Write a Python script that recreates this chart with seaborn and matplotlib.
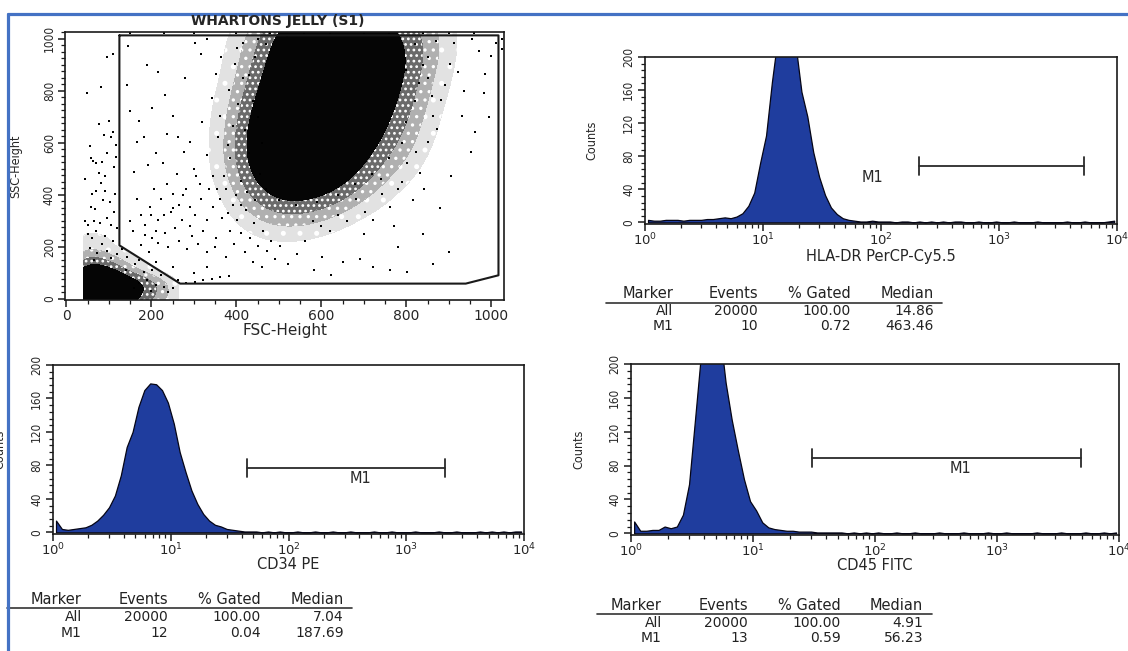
import numpy as np
import pandas as pd
import matplotlib
matplotlib.use("Agg")
import matplotlib.pyplot as plt
from matplotlib.lines import Line2D
from matplotlib.ticker import MultipleLocator
import seaborn as sns

# ------------------------------------------------------------------ data
W, H = 1128, 651

scatter_title = "WHARTONS JELLY (S1)"
fsc_label = "FSC-Height"
ssc_label = "SSC-Height"
scatter_ticks = [0, 200, 400, 600, 800, 1000]

# gate polygon (FSC, SSC)
gate_fsc = [125, 125, 268, 940, 1017, 1017, 125]
gate_ssc = [1012, 205, 58, 58, 90, 1012, 1012]

# estimated relative event density of the main cell cloud
core_fsc_grid = [350, 400, 450, 500, 550, 600, 650, 700, 750, 800, 850, 900]
core_ssc_grid = [1075, 1000, 925, 850, 775, 700, 625, 550, 475, 400, 325, 250]
core_density = [
    [0.0, 0.3, 1.0, 3.0, 5.0, 6.0, 6.0, 5.0, 4.0, 2.0, 1.0, 0.3],
    [0.0, 0.5, 1.5, 4.0, 7.0, 8.0, 8.0, 7.0, 5.0, 3.0, 1.5, 0.5],
    [0.1, 0.5, 2.0, 5.0, 8.0, 9.0, 9.0, 8.0, 6.0, 3.5, 1.5, 0.4],
    [0.1, 0.7, 2.5, 6.0, 9.0, 10.0, 10.0, 8.0, 6.0, 3.0, 1.0, 0.3],
    [0.2, 1.0, 3.5, 7.0, 10.0, 10.0, 10.0, 8.0, 5.0, 2.5, 0.8, 0.2],
    [0.3, 1.2, 4.5, 9.0, 10.0, 10.0, 9.0, 7.0, 4.0, 2.0, 0.5, 0.1],
    [0.3, 1.5, 5.5, 9.0, 10.0, 10.0, 8.0, 6.0, 3.0, 1.5, 0.4, 0.1],
    [0.3, 1.5, 5.5, 9.0, 10.0, 9.0, 7.0, 4.0, 2.0, 1.0, 0.2, 0.0],
    [0.2, 1.0, 4.0, 7.0, 8.0, 7.0, 5.0, 2.5, 1.0, 0.4, 0.1, 0.0],
    [0.1, 0.5, 2.0, 4.0, 4.5, 3.5, 2.0, 1.0, 0.4, 0.1, 0.0, 0.0],
    [0.0, 0.2, 0.6, 1.2, 1.2, 0.9, 0.5, 0.2, 0.1, 0.0, 0.0, 0.0],
    [0.0, 0.1, 0.2, 0.3, 0.3, 0.2, 0.1, 0.0, 0.0, 0.0, 0.0, 0.0],
]

# estimated relative density of the debris cluster (bottom left)
debris_fsc_grid = [40, 65, 90, 115, 140, 165, 190, 215, 240, 265]
debris_ssc_grid = [290, 230, 180, 140, 100, 65, 35, -4]
debris_density = [
    [0.4, 0.4, 0.3, 0.15, 0.05, 0.0, 0.0, 0.0, 0.0, 0.0],
    [0.7, 0.7, 0.5, 0.3, 0.15, 0.05, 0.0, 0.0, 0.0, 0.0],
    [1.2, 1.2, 0.9, 0.5, 0.3, 0.15, 0.05, 0.0, 0.0, 0.0],
    [2.5, 2.8, 2.2, 1.4, 0.8, 0.4, 0.2, 0.1, 0.0, 0.0],
    [5.0, 6.0, 5.0, 3.5, 2.0, 1.1, 0.6, 0.3, 0.15, 0.05],
    [8.0, 9.0, 8.0, 6.0, 4.0, 3.0, 2.0, 1.1, 0.6, 0.2],
    [10.0, 10.0, 9.0, 7.0, 5.0, 3.5, 2.5, 1.5, 0.8, 0.3],
    [10.0, 10.0, 9.0, 7.0, 5.0, 3.5, 2.5, 1.5, 0.8, 0.3],
]

# isolated events (FSC, SSC)
sparse_events = [
    (48, 790), (82, 815), (56, 585), (64, 530), (71, 520), (76, 482), (82, 445), (71, 415),
    (60, 402), (90, 412), (86, 378), (102, 372), (96, 560), (88, 628), (106, 622), (100, 682),
    (76, 672), (111, 642), (118, 592), (117, 546), (113, 505), (58, 352), (66, 300), (52, 282),
    (80, 292), (70, 262), (96, 312), (106, 282), (112, 332), (90, 242), (60, 232), (85, 212),
    (110, 222), (50, 248), (97, 930), (110, 940), (115, 402), (45, 300), (55, 195), (72, 175),
    (95, 185), (120, 170), (65, 150), (105, 155), (44, 460), (92, 470), (68, 345), (120, 270),
    (58, 540), (84, 525),
    (142, 820), (146, 970), (166, 602), (172, 682), (182, 622), (192, 512), (202, 732), (216, 872),
    (232, 782), (236, 632), (252, 702), (262, 622), (276, 562), (292, 602), (302, 982), (318, 942),
    (332, 552), (342, 772), (352, 862), (356, 622), (362, 702), (372, 472), (382, 802), (386, 542),
    (392, 662), (396, 902), (402, 962), (412, 452), (416, 982), (228, 520), (300, 500), (160, 488),
    (345, 470), (260, 480), (150, 720), (210, 560), (320, 680), (380, 590), (405, 750), (415, 850),
    (190, 900), (280, 850), (365, 930), (330, 1000),
    (150, 300), (158, 262), (166, 382), (176, 322), (186, 282), (196, 352), (202, 232), (206, 422),
    (216, 302), (222, 382), (232, 252), (236, 442), (246, 332), (252, 402), (256, 272), (266, 362),
    (272, 302), (282, 422), (292, 352), (296, 242), (302, 322), (306, 470), (316, 382), (322, 262),
    (332, 302), (336, 422), (346, 352), (352, 232), (362, 382), (366, 312), (376, 422), (386, 262),
    (392, 362), (402, 302), (412, 252), (422, 342), (432, 232), (442, 292), (452, 202), (462, 262),
    (472, 182), (482, 222), (492, 152), (502, 202), (522, 132), (542, 172), (562, 222), (582, 112),
    (602, 162), (622, 92), (652, 142), (692, 152), (722, 122), (762, 112), (802, 102), (862, 132),
    (175, 205), (195, 180), (210, 260), (240, 200), (265, 220), (285, 190), (310, 210), (330, 180),
    (350, 200), (375, 160), (395, 210), (420, 180), (440, 140), (460, 120), (275, 400), (315, 440),
    (355, 420), (400, 400), (425, 410), (445, 380), (380, 330), (410, 360), (290, 280), (230, 320),
    (250, 350), (200, 320), (185, 245), (215, 215),
    (150, 80), (170, 62), (190, 72), (210, 52), (230, 46), (250, 42), (182, 102), (202, 112),
    (222, 92), (162, 132), (142, 162), (132, 192), (262, 72), (282, 62), (302, 66), (322, 70),
    (342, 74), (362, 82), (382, 88), (160, 40), (200, 30), (240, 25), (140, 110), (170, 150),
    (210, 140), (250, 120), (300, 100), (330, 120),
    (802, 522), (822, 562), (832, 482), (852, 602), (862, 702), (872, 652), (882, 762), (892, 822),
    (902, 902), (912, 982), (922, 872), (932, 702), (952, 562), (962, 642), (972, 952), (982, 792),
    (986, 862), (1000, 932), (1010, 982), (842, 422), (762, 352), (742, 402), (722, 302), (702, 332),
    (682, 382), (880, 350), (905, 470), (850, 930), (870, 990), (935, 800), (955, 1000), (995, 700),
    (790, 450), (815, 380), (770, 280), (660, 300), (640, 320), (620, 260), (600, 280), (580, 300),
    (780, 200), (840, 250), (900, 180), (700, 250),
    (430, 860), (440, 760), (445, 930), (420, 650), (430, 560), (455, 480), (470, 420), (500, 380),
    (540, 360), (590, 370), (640, 400), (680, 440), (720, 480), (760, 540), (790, 600), (800, 680),
    (820, 760), (830, 830), (840, 900), (820, 980), (470, 980), (450, 1000), (520, 1010), (850, 850),
    (860, 780), (800, 880), (780, 420), (740, 460), (460, 600), (450, 700),
    (150, 1022), (230, 1022), (300, 1022), (400, 1020), (480, 1022), (560, 1022), (620, 1020),
    (700, 1022), (760, 1022), (840, 1022), (900, 1022), (960, 1022), (1025, 1000), (1025, 960),
]

# histogram channels: 80 bins of 0.05 decade from 10^0 to 10^4
log_lo, log_hi, n_bins = 0.0, 4.0, 80

hla_counts = [
    3, 2, 2, 3, 3, 3, 2, 3, 3, 3,
    4, 4, 5, 6, 5, 7, 11, 20, 36, 72,
    105, 170, 225, 250, 250, 215, 158, 128, 85, 55,
    33, 18, 10, 5, 3, 2, 1, 1, 2, 1,
    1, 1, 0, 1, 1, 0, 1, 0, 1, 0,
    1, 0, 1, 1, 0, 0, 1, 0, 0, 1,
    0, 0, 1, 0, 0, 0, 1, 0, 0, 0,
    0, 1, 0, 0, 1, 0, 0, 0, 1, 2,
]
cd34_counts = [
    14, 4, 3, 4, 5, 6, 9, 14, 21, 30,
    44, 68, 102, 120, 150, 170, 178, 177, 170, 155,
    130, 96, 72, 50, 34, 22, 14, 9, 7, 4,
    3, 2, 1, 1, 1, 0, 1, 0, 1, 0,
    0, 1, 0, 0, 1, 0, 0, 1, 0, 0,
    1, 0, 0, 0, 1, 0, 0, 1, 0, 0,
    0, 1, 0, 0, 0, 1, 0, 0, 1, 0,
    0, 0, 1, 0, 1, 0, 1, 0, 1, 1,
]
cd45_counts = [
    14, 3, 3, 4, 4, 8, 6, 8, 22, 58,
    136, 215, 250, 255, 240, 178, 134, 98, 64, 38,
    27, 13, 7, 5, 4, 3, 3, 2, 2, 2,
    1, 1, 1, 1, 1, 0, 1, 0, 1, 0,
    1, 0, 0, 1, 0, 0, 1, 0, 0, 0,
    1, 0, 0, 0, 1, 0, 0, 0, 1, 0,
    0, 1, 0, 0, 0, 0, 1, 0, 0, 0,
    1, 0, 0, 0, 1, 0, 0, 1, 0, 1,
]
count_ticks = [0, 40, 80, 120, 160, 200]

hla_xlabel = "HLA-DR PerCP-Cy5.5"
cd34_xlabel = "CD34 PE"
cd45_xlabel = "CD45 FITC"

# M1 marker: (start, end, level), label position (x, y)
hla_marker = (211, 5300, 68)
hla_marker_label = (84, 54)
cd34_marker = (44, 2150, 77)
cd34_marker_label = (405, 64)
cd45_marker = (30.5, 4870, 89)
cd45_marker_label = (499, 77)

table_header = ["Marker", "Events", "% Gated", "Median"]
hla_table = [["All", "20000", "100.00", "14.86"], ["M1", "10", "0.72", "463.46"]]
cd34_table = [["All", "20000", "100.00", "7.04"], ["M1", "12", "0.04", "187.69"]]
cd45_table = [["All", "20000", "100.00", "4.91"], ["M1", "13", "0.59", "56.23"]]

# ------------------------------------------------------------------ style
sns.set_style("ticks")
plt.rcParams["font.family"] = ["DejaVu Sans"]
plt.rcParams["axes.linewidth"] = 1.2
plt.rcParams["axes.edgecolor"] = "#1a1a1a"
plt.rcParams["hatch.color"] = "#000000"
plt.rcParams["hatch.linewidth"] = 1.2

fill_blue = "#1f3d9e"
ink = "#1a1a1a"

fig = plt.figure(figsize=(W / 100, H / 100), dpi=100)
fig.patch.set_facecolor("white")


def fig_axes(left, top, right, bottom):
    return fig.add_axes([left / W, 1 - bottom / H, (right - left) / W, (bottom - top) / H])


def ftext(px, py, s, **kw):
    fig.text(px / W, 1 - py / H, s, **kw)


# ------------------------------------------------------------------ dot plot
ax0 = fig_axes(65, 32, 504, 300)

core_df = pd.DataFrame(
    [(fx, sy, core_density[r][c])
     for r, sy in enumerate(core_ssc_grid)
     for c, fx in enumerate(core_fsc_grid) if core_density[r][c] > 0],
    columns=["fsc", "ssc", "w"])
debris_df = pd.DataFrame(
    [(fx, sy, debris_density[r][c])
     for r, sy in enumerate(debris_ssc_grid)
     for c, fx in enumerate(debris_fsc_grid) if debris_density[r][c] > 0],
    columns=["fsc", "ssc", "w"])
sparse_df = pd.DataFrame(sparse_events, columns=["fsc", "ssc"])

dens_colors = ["#e2e2e2", "#b0b0b0", "#6a6a6a", "#050505"]
dens_hatches = [".", "..", "...", None]
sns.kdeplot(data=core_df, x="fsc", y="ssc", weights="w", fill=True, color="black",
            levels=[0.015, 0.05, 0.11, 0.22, 1.0], colors=dens_colors, hatches=dens_hatches,
            bw_adjust=0.7, ax=ax0)
sns.kdeplot(data=debris_df, x="fsc", y="ssc", weights="w", fill=True, color="black",
            levels=[0.02, 0.07, 0.14, 0.25, 1.0], colors=dens_colors, hatches=dens_hatches,
            bw_adjust=0.75, cut=0, ax=ax0)
sns.scatterplot(data=sparse_df, x="fsc", y="ssc", marker="s", s=3, color="black",
                linewidth=0, ax=ax0)
sns.lineplot(x=gate_fsc, y=gate_ssc, sort=False, estimator=None, color=ink, lw=1.5, ax=ax0)

ax0.set_xlim(-3, 1030)
ax0.set_ylim(-5, 1025)
ax0.set_xticks(scatter_ticks)
ax0.set_yticks(scatter_ticks)
ax0.xaxis.set_minor_locator(MultipleLocator(50))
ax0.yaxis.set_minor_locator(MultipleLocator(25))
ax0.set_xticklabels([str(t) for t in scatter_ticks], fontsize=10)
ax0.set_yticklabels([str(t) for t in scatter_ticks], fontsize=8.5, rotation=90,
                    va="center", fontstretch="condensed")
ax0.tick_params(which="major", length=5, width=1.1, color=ink, pad=1.5)
ax0.tick_params(which="minor", length=3, width=0.9, color=ink)
ax0.set_xlabel(fsc_label, fontsize=11)
ax0.set_ylabel(ssc_label, fontsize=9, fontstretch="condensed")
ax0.xaxis.set_label_coords(0.5, -0.085)
ax0.yaxis.set_label_coords(-0.098, 0.5)
ftext(278, 21, scatter_title, fontsize=10, fontweight="bold", ha="center", va="center")


# ------------------------------------------------------------------ histograms
centers = log_lo + (np.arange(n_bins) + 0.5) * (log_hi - log_lo) / n_bins


def draw_hist(ax, counts, xlabel, marker, marker_label, ylabel_x, xlabel_y):
    df = pd.DataFrame({"intensity": 10 ** centers, "count": counts})
    sns.histplot(data=df, x="intensity", weights="count", bins=n_bins,
                 binrange=(log_lo, log_hi), log_scale=True, element="poly",
                 fill=True, color=fill_blue, edgecolor="#050515", linewidth=0.9,
                 alpha=1, ax=ax)
    x0, x1, lev = marker
    cap = 11
    ax.plot([x0, x1], [lev, lev], color="#2a2a2a", lw=1.3)
    ax.plot([x0, x0], [lev - cap, lev + cap], color="#2a2a2a", lw=1.3)
    ax.plot([x1, x1], [lev - cap, lev + cap], color="#2a2a2a", lw=1.3)
    ax.text(marker_label[0], marker_label[1], "M1", fontsize=10.5, color="#2a2a2a",
            ha="center", va="center")
    ax.set_xlim(10 ** log_lo, 10 ** log_hi)
    ax.set_ylim(-2, 200)
    ax.set_yticks(count_ticks)
    ax.set_yticklabels([str(t) for t in count_ticks], fontsize=8.5, rotation=90,
                       va="center", fontstretch="condensed")
    ax.yaxis.set_minor_locator(MultipleLocator(8))
    ax.tick_params(axis="x", which="major", labelsize=9.5, length=5, width=1.1, color=ink, pad=0.5)
    ax.tick_params(axis="x", which="minor", length=3, width=0.9, color=ink)
    ax.tick_params(axis="y", which="major", length=5, width=1.1, color=ink, pad=2)
    ax.tick_params(axis="y", which="minor", length=3, width=0.9, color=ink)
    ax.set_xlabel(xlabel, fontsize=10.5)
    ax.set_ylabel("Counts", fontsize=9, fontstretch="condensed")
    ax.xaxis.set_label_coords(0.5, xlabel_y)
    ax.yaxis.set_label_coords(ylabel_x, 0.5)


ax1 = fig_axes(645, 57, 1117, 224)
draw_hist(ax1, hla_counts, hla_xlabel, hla_marker, hla_marker_label, -0.099, -0.15)
ax2 = fig_axes(53, 365, 524, 534)
draw_hist(ax2, cd34_counts, cd34_xlabel, cd34_marker, cd34_marker_label, -0.10, -0.135)
ax3 = fig_axes(631, 364, 1119, 535)
draw_hist(ax3, cd45_counts, cd45_xlabel, cd45_marker, cd45_marker_label, -0.094, -0.135)


# ------------------------------------------------------------------ stat tables
def draw_table(rows, col_right, header_y, line_x, row_y):
    for cx, h in zip(col_right, table_header):
        ftext(cx, header_y, h, fontsize=10.5, ha="right", va="center", color="#222222")
    fig.add_artist(Line2D([line_x[0] / W, line_x[1] / W],
                          [1 - (header_y + 9) / H] * 2, color="#333333", lw=1.2,
                          transform=fig.transFigure))
    for ry, row in zip(row_y, rows):
        for cx, val in zip(col_right, row):
            ftext(cx, ry, val, fontsize=10, ha="right", va="center", color="#222222")


draw_table(hla_table, [673, 758, 851, 934], 294, (606, 942), [311, 326])
draw_table(cd34_table, [82, 168, 261, 344], 599, (7, 352), [617, 633])
draw_table(cd45_table, [662, 748, 841, 923], 605, (597, 932), [623, 638])

# ------------------------------------------------------------------ frame
frame_blue = "#4472c4"
fig.add_artist(Line2D([8 / W, 1], [1 - 14 / H] * 2, color=frame_blue, lw=2.3,
                      transform=fig.transFigure))
fig.add_artist(Line2D([8 / W, 8 / W], [0, 1 - 14 / H], color=frame_blue, lw=2.3,
                      transform=fig.transFigure))

fig.savefig("out.png", dpi=100)
